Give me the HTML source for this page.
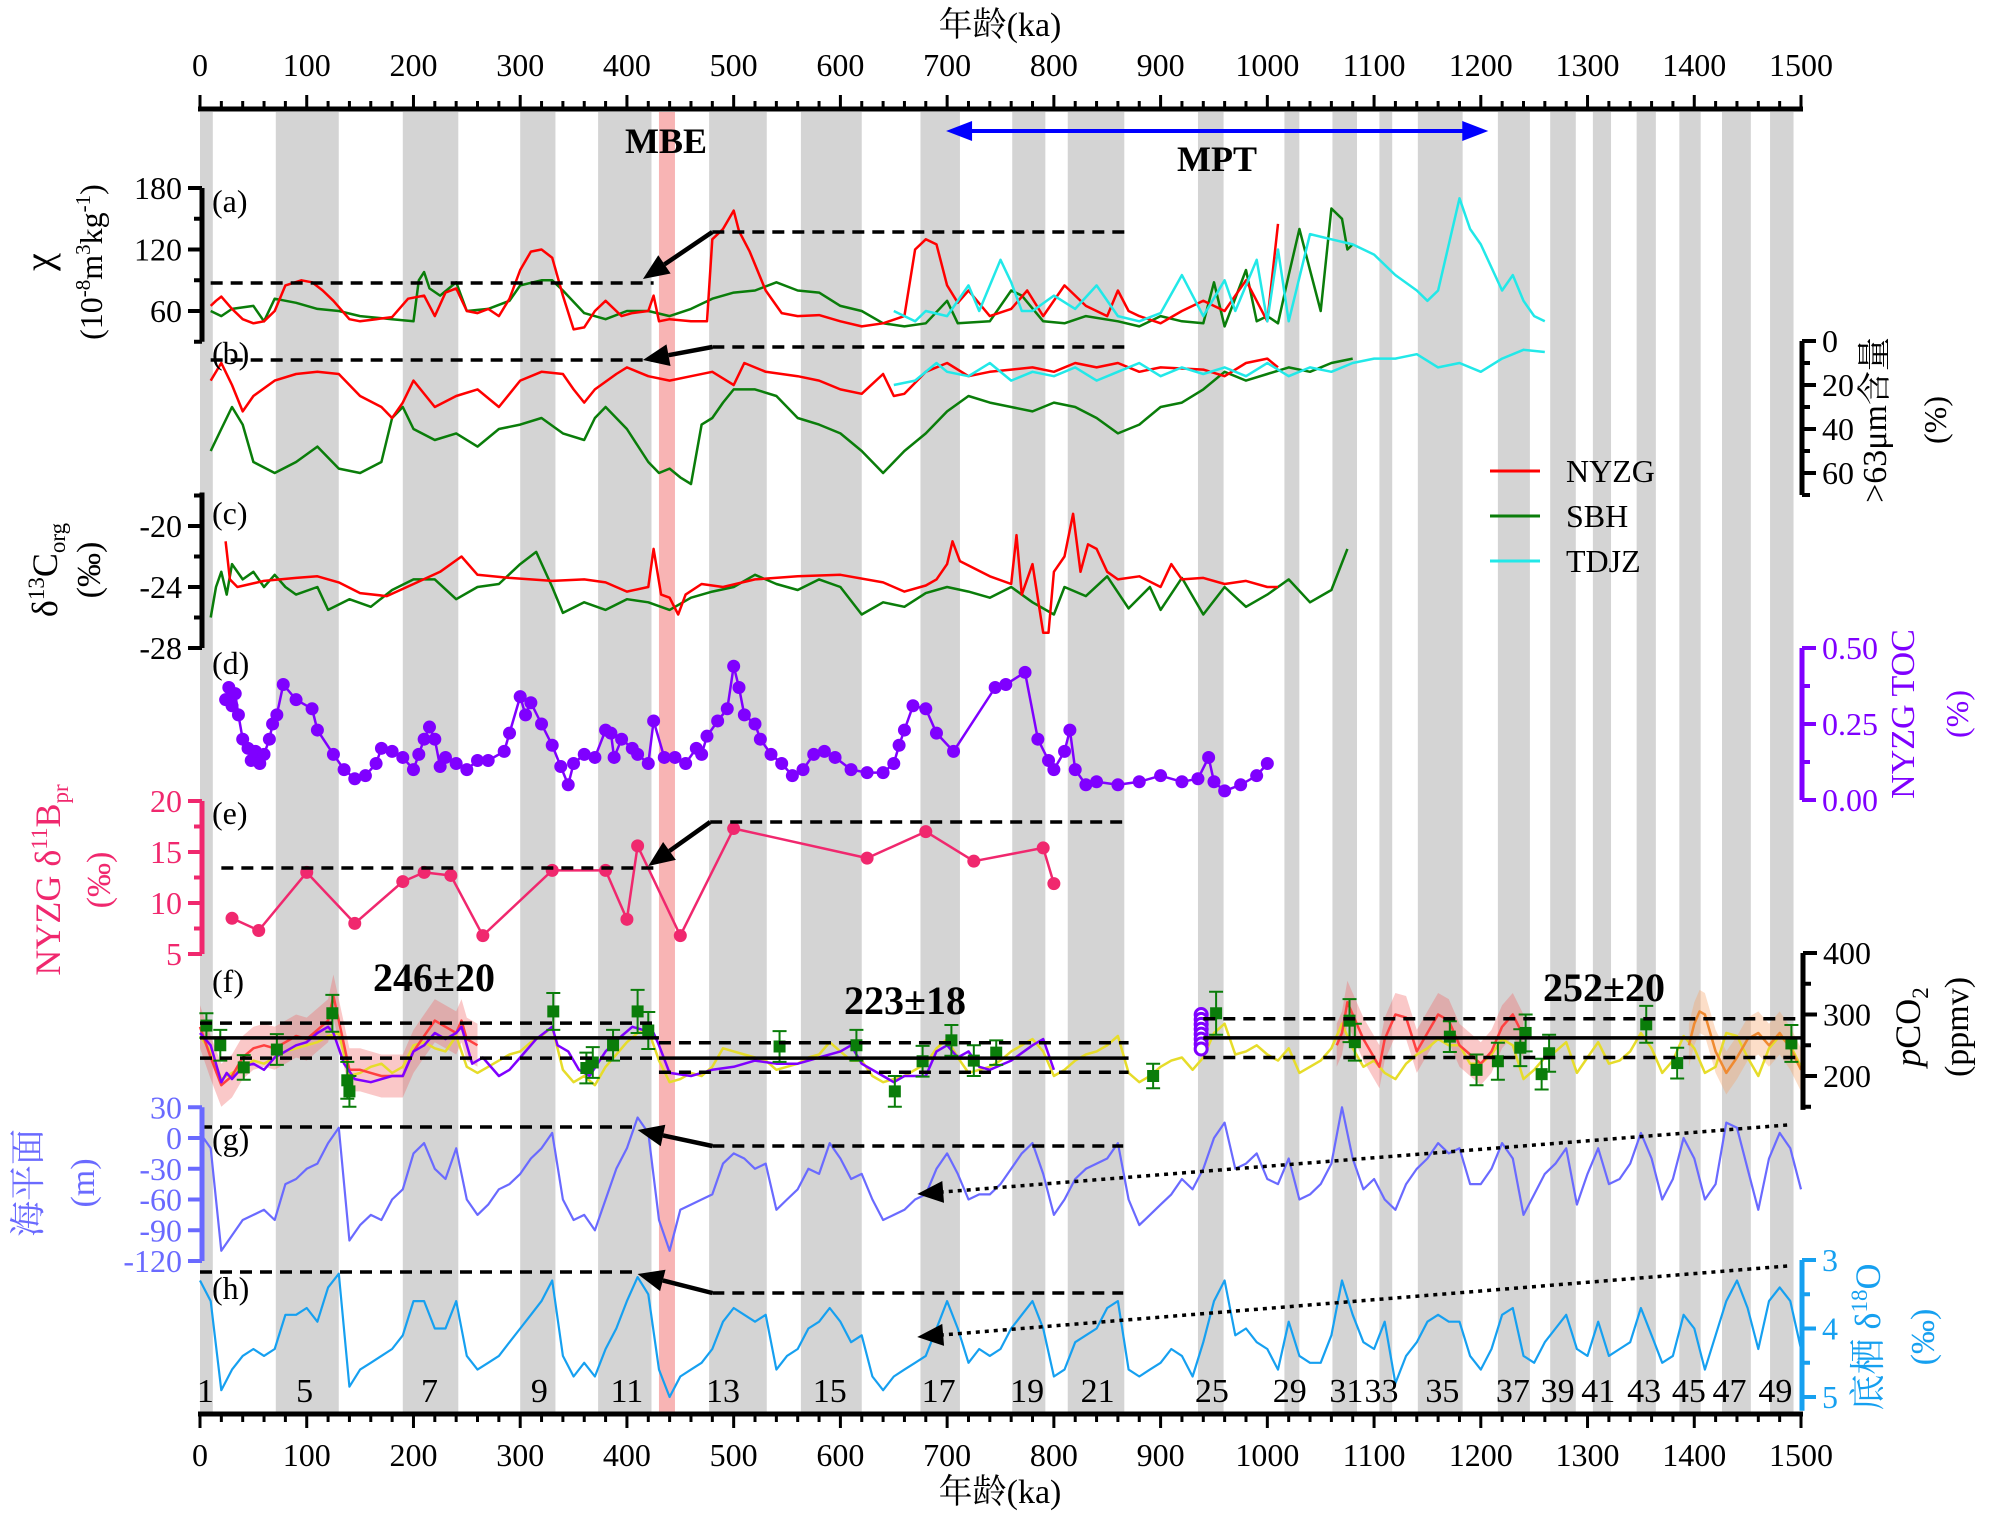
<!DOCTYPE html>
<html><head><meta charset="utf-8"><title>Paleoclimate multi-proxy chart</title>
<style>
html,body{margin:0;padding:0;background:#fff;}
svg{display:block;}
svg text{font-family:"Liberation Serif","Noto Serif CJK SC","Noto Sans CJK SC",serif;}
</style></head>
<body>
<svg id="chart" xmlns="http://www.w3.org/2000/svg" width="2000" height="1520" viewBox="0 0 2000 1520" font-family="Liberation Serif, Noto Serif CJK SC, serif">
<g id="bands"></g>
<g id="plots"></g>
<g id="axes"></g>
<g id="labels">
 <text x="1000" y="36" font-size="34" text-anchor="middle">年龄(ka)</text>
 <text x="1000" y="1503" font-size="34" text-anchor="middle">年龄(ka)</text>
 <text x="666" y="153" font-size="36" font-weight="bold" text-anchor="middle">MBE</text>
 <text x="1217" y="171" font-size="36" font-weight="bold" text-anchor="middle">MPT</text>
 <text x="434" y="991" font-size="40" font-weight="bold" text-anchor="middle">246±20</text>
 <text x="905" y="1014" font-size="40" font-weight="bold" text-anchor="middle">223±18</text>
 <text x="1604" y="1001" font-size="40" font-weight="bold" text-anchor="middle">252±20</text>
 <g font-size="32">
  <text x="212" y="212">(a)</text>
  <text x="212" y="364">(b)</text>
  <text x="212" y="524">(c)</text>
  <text x="212" y="674">(d)</text>
  <text x="212" y="824">(e)</text>
  <text x="212" y="992">(f)</text>
  <text x="212" y="1150">(g)</text>
  <text x="212" y="1299">(h)</text>
 </g>
 <g transform="translate(52,262) rotate(-90)"><text font-size="40" text-anchor="middle" y="0">χ</text></g>
 <g transform="translate(102,262) rotate(-90)"><text font-size="32" text-anchor="middle">(10<tspan font-size="21" dy="-12">-8</tspan><tspan dy="12">m</tspan><tspan font-size="21" dy="-12">3</tspan><tspan dy="12">kg</tspan><tspan font-size="21" dy="-12">-1</tspan><tspan dy="12">)</tspan></text></g>
 <g transform="translate(57,570) rotate(-90)"><text font-size="36" text-anchor="middle">δ<tspan font-size="23" dy="-13">13</tspan><tspan dy="13">C</tspan><tspan font-size="23" dy="8">org</tspan></text></g>
 <g transform="translate(100,570) rotate(-90)"><text font-size="34" text-anchor="middle">(‰)</text></g>
 <g transform="translate(60,880) rotate(-90)"><text font-size="36" fill="#f0286e" text-anchor="middle">NYZG δ<tspan font-size="23" dy="-13">11</tspan><tspan dy="13">B</tspan><tspan font-size="23" dy="8">pr</tspan></text></g>
 <g transform="translate(110,880) rotate(-90)"><text font-size="34" fill="#f0286e" text-anchor="middle">(‰)</text></g>
 <g transform="translate(40,1183) rotate(-90)"><text font-size="36" fill="#6a6aff" text-anchor="middle">海平面</text></g>
 <g transform="translate(94,1183) rotate(-90)"><text font-size="34" fill="#6a6aff" text-anchor="middle">(m)</text></g>
 <g transform="translate(1886,420) rotate(-90)"><text font-size="34" text-anchor="middle">&gt;63μm含量</text></g>
 <g transform="translate(1946,420) rotate(-90)"><text font-size="32" text-anchor="middle">(%)</text></g>
 <g transform="translate(1914,714) rotate(-90)"><text font-size="34" fill="#7f00ff" text-anchor="middle">NYZG TOC</text></g>
 <g transform="translate(1968,714) rotate(-90)"><text font-size="32" fill="#7f00ff" text-anchor="middle">(%)</text></g>
 <g transform="translate(1920,1027) rotate(-90)"><text font-size="36" text-anchor="middle"><tspan font-style="italic">p</tspan>CO<tspan font-size="23" dy="8">2</tspan></text></g>
 <g transform="translate(1968,1027) rotate(-90)"><text font-size="34" text-anchor="middle">(ppmv)</text></g>
 <g transform="translate(1880,1337) rotate(-90)"><text font-size="36" fill="#16a0f0" text-anchor="middle">底栖 δ<tspan font-size="23" dy="-13">18</tspan><tspan dy="13">O</tspan></text></g>
 <g transform="translate(1934,1337) rotate(-90)"><text font-size="34" fill="#16a0f0" text-anchor="middle">(‰)</text></g>
 <g font-size="32">
  <line x1="1490" y1="471" x2="1540" y2="471" stroke="#ff0000" stroke-width="3"/>
  <text x="1566" y="482">NYZG</text>
  <line x1="1490" y1="516" x2="1540" y2="516" stroke="#0a7d0a" stroke-width="3"/>
  <text x="1566" y="527">SBH</text>
  <line x1="1490" y1="561" x2="1540" y2="561" stroke="#22e8e8" stroke-width="3"/>
  <text x="1566" y="572">TDJZ</text>
 </g>
</g>
</svg>
<script>
// ---------- data ----------
const misBandStart = [0,71,190,300,373,477,563,675,761,813,935,1016,1061,1105,1141,1216,1265,1305,1346,1386,1426,1471];
const misBandEnd   = [12,130,242,333,423,531,620,712,792,866,959,1030,1084,1117,1183,1246,1289,1322,1364,1406,1453,1493];
const misLabels = ['1','5','7','9','11','13','15','17','19','21','25','29','31','33','35','37','39','41','43','45','47','49'];
const misLabelAge = [5,98,215,318,400,490,590,692,775,841,948,1021,1074,1107,1164,1230,1272,1310,1353,1395,1433,1476];

const chiNyzgAge = [10,15,20,30,40,50,60,70,80,95,105,115,125,140,150,165,180,195,210,220,230,240,250,260,270,280,290,300,310,320,330,340,350,360,370,380,395,405,420,425,430,440,460,475,480,490,500,505,515,530,545,560,580,600,620,640,660,670,680,690,700,710,720,740,760,775,790,810,830,850,860,870,880,900,920,940,960,980,1000,1010];
const chiNyzgVal = [65,70,74,62,52,48,50,60,85,90,88,80,70,52,50,52,54,72,75,55,78,82,60,58,62,55,72,100,118,120,112,75,42,44,60,70,55,58,60,75,50,52,50,50,130,140,158,138,118,80,58,55,56,50,45,48,55,120,130,125,85,68,80,55,62,80,55,85,65,55,80,60,55,48,60,70,60,90,50,145];
const chiSbhAge = [10,20,30,50,60,70,90,110,130,150,180,200,205,210,215,225,240,250,270,290,300,320,330,340,360,380,400,420,440,460,480,500,520,540,560,580,600,620,640,660,680,700,710,740,760,770,790,810,830,860,880,900,920,940,950,960,980,990,1000,1010,1020,1030,1040,1050,1060,1070,1075,1080];
const chiSbhVal = [60,55,62,65,50,72,68,62,60,55,52,50,90,98,82,75,88,60,62,70,85,90,90,80,58,52,60,60,55,62,72,78,80,88,80,78,65,60,48,45,48,70,48,50,80,75,50,48,55,50,45,55,50,48,88,45,100,50,55,48,95,140,100,60,160,150,120,125];
const chiTdjzAge = [650,660,670,680,700,720,730,750,760,770,780,800,820,840,860,880,900,920,940,960,970,980,990,1000,1010,1020,1040,1060,1080,1100,1120,1140,1150,1160,1170,1180,1190,1200,1220,1230,1240,1250,1260];
const chiTdjzVal = [60,55,50,60,55,85,60,110,88,60,60,75,62,85,55,50,58,95,55,90,60,85,110,50,120,50,135,130,125,115,95,80,70,80,125,170,140,125,80,95,70,55,50];

const sandNyzgAge = [10,20,30,40,50,70,90,110,130,150,170,180,190,200,220,240,260,280,300,320,340,350,360,370,390,400,420,440,460,480,500,510,530,560,580,600,620,640,650,660,680,700,720,740,760,780,800,820,840,860,880,900,940,960,980,1000,1010];
const sandNyzgVal = [18,10,20,32,25,18,15,14,15,25,30,35,28,18,30,25,22,30,18,14,15,22,28,22,15,12,16,18,16,14,20,10,14,16,18,22,24,15,25,24,14,10,16,14,13,12,14,10,12,10,14,12,13,16,10,8,12];
const sandSbhAge = [10,20,30,40,50,70,90,110,130,150,170,180,190,200,220,240,260,280,300,320,340,360,370,380,400,420,430,440,450,460,470,480,490,500,520,540,560,580,600,620,640,660,680,700,720,740,760,780,800,820,840,860,880,900,920,940,960,980,1000,1020,1040,1060,1080];
const sandSbhVal = [50,40,30,38,55,60,55,48,58,60,55,35,30,40,45,42,48,40,38,35,42,45,35,30,40,55,60,58,62,65,38,35,28,22,22,25,35,38,42,50,60,50,42,32,25,28,30,32,28,30,35,42,38,30,28,22,14,18,15,12,14,10,8];
const sandTdjzAge = [650,670,690,700,720,740,760,780,800,820,840,860,880,900,920,940,960,980,1000,1020,1040,1060,1080,1100,1120,1140,1160,1180,1200,1220,1240,1260];
const sandTdjzVal = [20,18,10,14,16,10,18,14,16,12,18,14,10,16,12,15,12,16,10,16,12,14,10,8,8,6,12,10,14,8,4,5];

const d13cNyzgAge = [24,28,35,60,90,110,130,150,175,200,225,245,260,290,330,360,380,400,420,425,432,440,448,455,470,490,520,560,600,640,660,680,690,700,705,712,740,760,765,770,780,790,795,800,810,818,825,832,840,850,860,880,900,910,920,940,960,980,1000,1010];
const d13cNyzgVal = [-21,-23.5,-24,-23.6,-23.4,-23.3,-23.7,-24.4,-24.6,-23.8,-23,-22,-23.2,-23.4,-23.6,-23.5,-23.7,-24.3,-24,-21.5,-24.5,-24.7,-25.8,-24.5,-23.8,-24,-23.5,-23.3,-23.2,-23.7,-24.3,-23.9,-23.5,-22.5,-21,-22.3,-23.3,-23.8,-20.6,-24.5,-22.5,-27,-27,-23,-22,-19.2,-23,-21.2,-21.5,-23,-23.5,-23.3,-24,-22.5,-23.5,-23.4,-23.8,-23.6,-24,-24];
const d13cSbhAge = [10,15,20,25,30,40,50,60,70,80,90,110,120,140,160,180,200,220,240,260,280,300,315,330,340,360,380,400,420,440,460,480,500,520,540,560,580,600,620,640,660,680,700,720,740,760,780,800,810,830,850,870,890,900,920,940,960,980,1000,1020,1040,1060,1075];
const d13cSbhVal = [-26,-24,-23,-24.5,-22.5,-23.5,-23,-24,-23.2,-24,-24.5,-24,-25.5,-24.8,-25.3,-24.2,-23.5,-23.5,-24.8,-24,-23.8,-22.5,-21.7,-24,-25.7,-25,-25.5,-24.8,-25,-25.5,-24.7,-24.3,-24,-23.2,-23.8,-24.2,-23.5,-24,-25.8,-25,-25.3,-24.4,-24,-24.3,-24.7,-24,-25,-25.8,-24,-24.6,-23.3,-25.4,-24,-25.5,-23.4,-25.8,-24,-25.3,-24.5,-23.5,-25,-24.2,-21.5];

const tocAge = [24,27,30,33,36,40,45,48,52,56,60,65,68,72,78,90,105,110,125,135,145,155,165,170,180,190,200,205,210,215,220,225,230,240,250,260,270,285,290,300,305,310,320,330,338,345,350,360,370,380,385,388,395,405,410,420,425,435,445,455,465,470,475,485,494,500,505,510,520,525,535,545,555,565,575,585,595,610,625,640,650,655,660,668,680,690,706,745,755,773,785,795,800,810,815,820,830,840,860,880,900,920,935,945,950,960,975,990,1000];
const tocVal = [0.33,0.37,0.31,0.35,0.28,0.2,0.17,0.13,0.16,0.12,0.15,0.2,0.25,0.28,0.38,0.33,0.3,0.23,0.15,0.1,0.07,0.08,0.12,0.17,0.16,0.14,0.1,0.15,0.2,0.24,0.2,0.11,0.14,0.12,0.1,0.13,0.13,0.16,0.22,0.34,0.28,0.32,0.25,0.18,0.11,0.05,0.12,0.15,0.14,0.23,0.22,0.14,0.2,0.17,0.15,0.12,0.26,0.14,0.14,0.12,0.17,0.15,0.21,0.26,0.3,0.44,0.37,0.28,0.25,0.2,0.15,0.12,0.08,0.1,0.15,0.16,0.14,0.1,0.09,0.09,0.12,0.18,0.23,0.31,0.3,0.22,0.16,0.37,0.38,0.42,0.2,0.13,0.1,0.16,0.23,0.1,0.05,0.06,0.05,0.06,0.08,0.06,0.07,0.14,0.06,0.03,0.05,0.08,0.12];

const d11bAge = [30,55,100,145,190,210,235,265,330,380,400,410,450,500,625,680,725,790,800];
const d11bVal = [8.5,7.3,13,8,12.1,13,12.7,6.8,13.2,13.2,8.4,15.6,6.8,17.3,14.4,17,14.1,15.4,11.9];

const pco2PurpleAge = [0,10,20,25,30,40,50,60,70,80,90,100,110,120,125,135,145,160,180,190,200,210,220,230,240,245,255,265,280,290,300,315,330,335,345,355,365,380,395,405,415,425,430,440,460,480,500,520,540,560,580,600,610,620,640,650,660,680,690,700,710,720,730,740,760,780,790,800];
const pco2PurpleVal = [270,250,190,205,195,215,220,210,230,240,250,255,270,280,270,220,195,190,200,200,240,250,270,260,270,280,220,230,200,210,230,260,280,250,240,210,200,240,265,280,275,270,250,205,200,210,215,225,220,220,230,240,250,220,200,190,200,200,240,250,230,240,215,210,225,250,260,210];
const pco2YellowVal = [265,240,195,205,215,225,220,230,240,245,250,255,265,270,200,205,215,220,205,215,250,255,245,240,265,215,205,215,225,235,240,255,265,280,210,190,200,185,215,235,255,270,275,225,190,195,205,200,215,245,240,235,230,225,210,215,220,230,235,255,240,225,225,200,190,195,200,210,220,245,260,230,205,210,215,225,240,250,260,240,200,210,225,235,240,250,265,205,190,200,215,225,230,210,230,270,285,235,240,250,235,225,245,205,215,225,245,285,245,215,225,205,195,220,235,245,260,250,250,220,220,235,260,250,195,210,230,240,255,205,230,255,220,225,240,270,245,205,225,265,245,205,215,270,265,230,200,245,265,250,215];
const pco2RedAge1 = [0,10,20,30,40,50,60,70,80,90,100,110,120,125,130,140,150,160,170,180,190,200,210,220,230,240,245,250,260];
const pco2RedVal1 = [280,230,185,200,230,245,250,245,255,265,260,275,290,330,290,210,210,205,200,200,200,240,265,290,280,270,290,260,250];
const pco2RedAge2 = [1065,1070,1075,1080,1090,1100,1105,1110,1120,1130,1140,1150,1160,1170,1180,1190,1200,1210,1220,1230,1240];
const pco2RedVal2 = [250,270,320,300,260,230,215,260,300,295,240,270,300,290,250,235,220,240,280,300,265];
const pco2OrangeAge = [1395,1400,1405,1410,1420,1430,1440,1450,1460,1470,1480,1490,1500];
const pco2OrangeVal = [250,285,305,300,240,205,230,260,270,250,270,245,210];
const pco2BoronAge = [6,19,41,72,124,138,140,331,362,368,387,410,420,543,615,651,677,704,725,746,893,952,1077,1082,1171,1196,1216,1237,1242,1257,1264,1355,1384,1491];
const pco2BoronVal = [282,250,214,243,302,193,175,305,213,222,250,305,274,248,250,175,224,258,225,238,200,302,290,255,264,210,224,246,270,203,237,284,221,253];
const pco2BoronErr = [20,25,20,25,30,30,25,30,25,25,25,35,30,25,25,25,25,25,25,20,20,35,35,30,25,25,30,30,30,25,30,30,25,30];
const pco2MeanSegStart = [0,430,940];
const pco2MeanSegEnd = [430,870,1500];
const pco2MeanSegMean = [262,229,262];
const pco2MeanSegUpper = [286,254,293];
const pco2MeanSegLower = [229,206,230];

const seaLevelVal = [5,-10,-110,-95,-80,-75,-70,-80,-45,-40,-30,-25,-5,10,-100,-85,-75,-80,-60,-50,-15,-5,-30,-40,-10,-60,-75,-65,-50,-45,-35,-20,-10,5,-60,-80,-75,-90,-60,-30,-10,20,5,-80,-110,-70,-65,-60,-55,-25,-15,-20,-30,-25,-70,-60,-50,-30,-35,-5,-20,-40,-35,-60,-80,-75,-70,-60,-55,-30,-15,-35,-60,-55,-55,-45,-30,-15,-5,-35,-75,-60,-40,-30,-25,-20,-5,-60,-85,-75,-65,-55,-40,-50,-30,0,15,-30,-25,-15,-40,-45,-20,-60,-55,-45,-25,30,-20,-50,-40,-60,-70,-45,-30,-20,-5,-15,-10,-45,-45,-30,-5,-20,-75,-55,-35,-25,-10,-65,-35,-10,-45,-40,-25,5,-20,-60,-40,0,-20,-60,-45,15,10,-30,-70,-20,5,-10,-50];
const d18oVal = [3.3,3.6,4.9,4.6,4.4,4.3,4.4,4.3,3.8,3.8,3.7,3.9,3.4,3.2,4.85,4.6,4.5,4.4,4.3,4.1,3.6,3.6,4.0,4.0,3.6,4.4,4.6,4.5,4.4,4.2,4.0,3.8,3.6,3.3,4.4,4.7,4.5,4.7,4.3,4.0,3.6,3.25,3.5,4.6,5.0,4.7,4.6,4.5,4.3,3.9,3.7,3.8,3.9,3.8,4.6,4.4,4.3,4.0,3.9,3.7,3.9,4.2,4.1,4.7,4.9,4.7,4.6,4.5,4.4,4.0,3.6,4.0,4.5,4.3,4.4,4.3,4.0,3.8,3.6,4.0,4.7,4.6,4.2,4.1,4.0,3.7,3.6,4.6,4.7,4.6,4.5,4.3,4.4,4.7,4.2,3.6,3.3,4.1,4.0,4.2,4.3,4.6,3.9,4.4,4.5,4.5,4.1,3.3,3.8,4.2,4.3,3.9,4.8,4.4,4.2,3.9,3.8,3.9,3.9,4.4,4.6,4.3,3.8,3.7,4.4,4.5,4.2,4.0,3.8,4.3,4.4,3.9,4.4,4.3,4.2,3.7,4.1,4.5,4.4,3.8,4.0,4.6,4.1,3.6,3.3,3.7,4.3,3.6,3.4,3.6,4.3];
const glacialStepKa = 10;

const xTicksMajor = [0,100,200,300,400,500,600,700,800,900,1000,1100,1200,1300,1400,1500];

// ---------- scales ----------
const X0 = 200, X1 = 1801;
function xs(ka){ return X0 + ka*(X1-X0)/1500; }
function lin(v0,p0,v1,p1){ return v => p0 + (v-v0)*(p1-p0)/(v1-v0); }
const yChi  = lin(180,188,60,311);
const ySand = lin(0,341,60,473);
const yC13  = lin(-20,526,-28,648);
const yToc  = lin(0.5,648,0,800);
const yB11  = lin(20,801,5,954);
const yCO2  = lin(400,953,200,1076);
const ySea  = lin(0,1138,-120,1261);
const yO18  = lin(3,1260,5,1397);

const NS = 'http://www.w3.org/2000/svg';
function mk(tag, attrs, parent){
  const e = document.createElementNS(NS, tag);
  for (const k in attrs) e.setAttribute(k, attrs[k]);
  parent.appendChild(e); return e;
}
const bandsG = document.getElementById('bands');
const plotsG = document.getElementById('plots');
const axesG = document.getElementById('axes');
const labelsG = document.getElementById('labels');

for (let i=0;i<misBandStart.length;i++){
  const r = mk('rect',{x:xs(misBandStart[i]),y:112,width:xs(misBandEnd[i])-xs(misBandStart[i]),height:1301,fill:'#d4d4d4'},bandsG);
  
  
}
const mbe = mk('rect',{x:xs(430),y:112,width:xs(445)-xs(430),height:1301,fill:'#f8b4b4'},bandsG);



function pathD(ages, vals, yf){
  return ages.map((a,i)=>(i?'L':'M')+xs(a).toFixed(1)+','+yf(vals[i]).toFixed(1)).join(' ');
}
function series(ages, vals, yf, color, w, name){
  const p = mk('path',{d:pathD(ages,vals,yf),fill:'none',stroke:color,'stroke-width':w,'stroke-linejoin':'round'},plotsG);
  
  
  return p;
}
function stepAges(n){ const a=[]; for(let i=0;i<n;i++) a.push(i*glacialStepKa); return a; }

series(chiSbhAge, chiSbhVal, yChi, '#0a7d0a', 2.5, 'chi-sbh-line');
series(chiNyzgAge, chiNyzgVal, yChi, '#ff0000', 2.5, 'chi-nyzg-line');
series(chiTdjzAge, chiTdjzVal, yChi, '#22e8e8', 2.5, 'chi-tdjz-line');
series(sandSbhAge, sandSbhVal, ySand, '#0a7d0a', 2.5, 'sand-sbh-line');
series(sandNyzgAge, sandNyzgVal, ySand, '#ff0000', 2.5, 'sand-nyzg-line');
series(sandTdjzAge, sandTdjzVal, ySand, '#22e8e8', 2.5, 'sand-tdjz-line');
series(d13cSbhAge, d13cSbhVal, yC13, '#0a7d0a', 2.5, 'd13c-sbh-line');
series(d13cNyzgAge, d13cNyzgVal, yC13, '#ff0000', 2.5, 'd13c-nyzg-line');
series(tocAge, tocVal, yToc, '#7f00ff', 2.5, 'toc-line');
for (let i=0;i<tocAge.length;i++){
  const c = mk('circle',{cx:xs(tocAge[i]),cy:yToc(tocVal[i]),r:6.5,fill:'#7f00ff'},plotsG);
  
  
}
series(d11bAge, d11bVal, yB11, '#f0286e', 2.5, 'd11b-line');
for (let i=0;i<d11bAge.length;i++){
  const c = mk('circle',{cx:xs(d11bAge[i]),cy:yB11(d11bVal[i]),r:6.5,fill:'#f0286e'},plotsG);
  
  
}
function band(ages, vals, err, yf, color, name){
  const up = ages.map((a,i)=>xs(a).toFixed(1)+','+yf(vals[i]+err).toFixed(1));
  const dn = ages.map((a,i)=>xs(a).toFixed(1)+','+yf(vals[i]-err).toFixed(1)).reverse();
  const p = mk('polygon',{points:up.concat(dn).join(' '),fill:color,opacity:0.35},plotsG);
  
  
}
band(pco2RedAge1, pco2RedVal1, 35, yCO2, '#f06060', 'pco2-red-uncertainty-1');
band(pco2RedAge2, pco2RedVal2, 35, yCO2, '#f06060', 'pco2-red-uncertainty-2');
band(pco2OrangeAge, pco2OrangeVal, 35, yCO2, '#f5a060', 'pco2-orange-uncertainty');
series(stepAges(pco2YellowVal.length), pco2YellowVal, yCO2, '#e6dc2a', 2.5, 'pco2-yellow-line');
series(pco2RedAge1, pco2RedVal1, yCO2, '#ff4040', 2.5, 'pco2-red-line-1');
series(pco2RedAge2, pco2RedVal2, yCO2, '#ff4040', 2.5, 'pco2-red-line-2');
series(pco2OrangeAge, pco2OrangeVal, yCO2, '#f08a30', 2.5, 'pco2-orange-line');
series(pco2PurpleAge, pco2PurpleVal, yCO2, '#7f00ff', 2.5, 'pco2-purple-line');
for (let i=0;i<pco2BoronAge.length;i++){
  const x = xs(pco2BoronAge[i]);
  const e = mk('path',{d:'M'+x+','+yCO2(pco2BoronVal[i]+pco2BoronErr[i])+' V'+yCO2(pco2BoronVal[i]-pco2BoronErr[i])+' M'+(x-7)+','+yCO2(pco2BoronVal[i]+pco2BoronErr[i])+' h14 M'+(x-7)+','+yCO2(pco2BoronVal[i]-pco2BoronErr[i])+' h14',stroke:'#0a7d0a','stroke-width':2,fill:'none'},plotsG);
  
  
  const s = mk('rect',{x:x-6,y:yCO2(pco2BoronVal[i])-6,width:12,height:12,fill:'#0a7d0a'},plotsG);
  
  
}
for (let v=300; v>=240; v-=8){
  const c = mk('circle',{cx:xs(938),cy:yCO2(v),r:6,fill:'#fff',stroke:'#7f00ff','stroke-width':3},plotsG);
  
  
}
for (let i=0;i<pco2MeanSegStart.length;i++){
  const x1 = xs(pco2MeanSegStart[i]), x2 = xs(pco2MeanSegEnd[i]);
  const m = mk('line',{x1:x1,x2:x2,y1:yCO2(pco2MeanSegMean[i]),y2:yCO2(pco2MeanSegMean[i]),stroke:'#000','stroke-width':3.5},plotsG);
  
  
  const u = mk('line',{x1:x1,x2:x2,y1:yCO2(pco2MeanSegUpper[i]),y2:yCO2(pco2MeanSegUpper[i]),stroke:'#000','stroke-width':3.5,'stroke-dasharray':'12,8'},plotsG);
  
  
  const l = mk('line',{x1:x1,x2:x2,y1:yCO2(pco2MeanSegLower[i]),y2:yCO2(pco2MeanSegLower[i]),stroke:'#000','stroke-width':3.5,'stroke-dasharray':'12,8'},plotsG);
  
  
}
series(stepAges(seaLevelVal.length), seaLevelVal, ySea, '#6a6aff', 2.2, 'sea-level-line');
series(stepAges(d18oVal.length), d18oVal, yO18, '#16a0f0', 2.2, 'd18o-line');

function dash(k1,k2,y,name){
  const l = mk('line',{x1:xs(k1),x2:xs(k2),y1:y,y2:y,stroke:'#000','stroke-width':3.5,'stroke-dasharray':'12,8'},plotsG);
  
  
}
function arrow(x1,y1,x2,y2,name,dot){
  const ang = Math.atan2(y2-y1,x2-x1), L=26, W=11;
  const bx = x2 - L*Math.cos(ang), by = y2 - L*Math.sin(ang);
  const l = mk('line',{x1:x1,y1:y1,x2:bx,y2:by,stroke:'#000','stroke-width':dot?3.5:4.5,'stroke-dasharray':dot?'4,5':'none'},plotsG);
  
  
  const p = mk('polygon',{points:[x2+','+y2,(bx+W*Math.sin(ang))+','+(by-W*Math.cos(ang)),(bx-W*Math.sin(ang))+','+(by+W*Math.cos(ang))].join(' '),fill:'#000'},plotsG);
  
  
}
dash(10,425,283,'chi-interglacial-level-pre');
dash(480,870,232,'chi-interglacial-level-post');
arrow(xs(480),232,xs(415),279,'chi-arrow');
dash(10,425,360,'sand-level-pre');
dash(480,870,347,'sand-level-post');
arrow(xs(480),347,xs(415),360,'sand-arrow');
dash(20,425,868,'d11b-level-pre');
dash(478,870,822,'d11b-level-post');
arrow(xs(478),822,xs(420),866,'d11b-arrow');
dash(0,410,1127,'sea-level-pre');
dash(480,865,1146,'sea-level-post');
arrow(xs(480),1146,xs(410),1130,'sea-level-arrow');
dash(0,410,1272,'d18o-level-pre');
dash(480,865,1293,'d18o-level-post');
arrow(xs(480),1293,xs(410),1274,'d18o-arrow');
arrow(xs(1487),1125,xs(672),1194,'sea-level-trend-arrow',true);
arrow(xs(1487),1266,xs(672),1337,'d18o-trend-arrow',true);
(function(){
  const y=131, a=xs(699), b=xs(1207);
  const l = mk('line',{x1:a+20,x2:b-20,y1:y,y2:y,stroke:'#0000ff','stroke-width':4},plotsG);
  
  
  const h1 = mk('polygon',{points:a+','+y+' '+(a+26)+','+(y-10)+' '+(a+26)+','+(y+10),fill:'#0000ff'},plotsG);
  
  
  const h2 = mk('polygon',{points:b+','+y+' '+(b-26)+','+(y-10)+' '+(b-26)+','+(y+10),fill:'#0000ff'},plotsG);
  
  
})();

function xAxis(y, dir, labelY, name){
  const l = mk('line',{x1:X0-2,x2:X1+2,y1:y,y2:y,stroke:'#000','stroke-width':5},axesG);
  
  
  for (let k=0;k<=1500;k+=20){
    const major = (k%100===0);
    const t = mk('line',{x1:xs(k),x2:xs(k),y1:y,y2:y+dir*(major?14:8),stroke:'#000','stroke-width':3},axesG);
    
    
  }
  for (let i=0;i<xTicksMajor.length;i++){
    const tx = mk('text',{x:xs(xTicksMajor[i]),y:labelY,'font-size':32,'text-anchor':'middle'},axesG);
    tx.textContent = xTicksMajor[i];
    
    
  }
}
xAxis(109,-1,76,'top-x-axis');
xAxis(1414,1,1466,'bottom-x-axis');

function yAxis(x, side, vTop, vBot, yf, majors, minors, color, name, fmt){
  const l = mk('line',{x1:x,x2:x,y1:yf(vTop),y2:yf(vBot),stroke:color,'stroke-width':5},axesG);
  
  
  minors.forEach(v=>{
    const t = mk('line',{x1:x,x2:x+side*8,y1:yf(v),y2:yf(v),stroke:color,'stroke-width':4},axesG);
    
    
  });
  majors.forEach(v=>{
    const t = mk('line',{x1:x,x2:x+side*14,y1:yf(v),y2:yf(v),stroke:color,'stroke-width':4},axesG);
    
    
    const tx = mk('text',{x:x+side*20,y:yf(v)+11,'font-size':32,fill:color,'text-anchor':side<0?'end':'start'},axesG);
    tx.textContent = fmt?fmt(v):v;
    
    
  });
}
yAxis(202,-1,180,30,yChi,[180,120,60],[150,90,30],'#000','chi-axis');
yAxis(1802,1,0,70,ySand,[0,20,40,60],[10,30,50,70],'#000','coarse-fraction-axis');
yAxis(202,-1,-17.8,-28,yC13,[-20,-24,-28],[-18,-22,-26],'#000','d13c-axis');
yAxis(1802,1,0.5,0,yToc,[0.5,0.25,0],[0.375,0.125],'#7f00ff','toc-axis',v=>v.toFixed(2));
yAxis(202,-1,20,5,yB11,[20,15,10,5],[17.5,12.5,7.5],'#f0286e','d11b-axis');
yAxis(1803,1,400,145,yCO2,[400,300,200],[350,250,150],'#000','pco2-axis');
yAxis(202,-1,30,-120,ySea,[30,0,-30,-60,-90,-120],[],'#6a6aff','sea-level-axis');
yAxis(1802,1,3,5.2,yO18,[3,4,5],[3.5,4.5],'#16a0f0','d18o-axis');

for (let i=0;i<misLabels.length;i++){
  const t = mk('text',{x:xs(misLabelAge[i]),y:1402,'font-size':34,'text-anchor':'middle'},labelsG);
  t.textContent = misLabels[i];
  
  
}
</script>
</body></html>
